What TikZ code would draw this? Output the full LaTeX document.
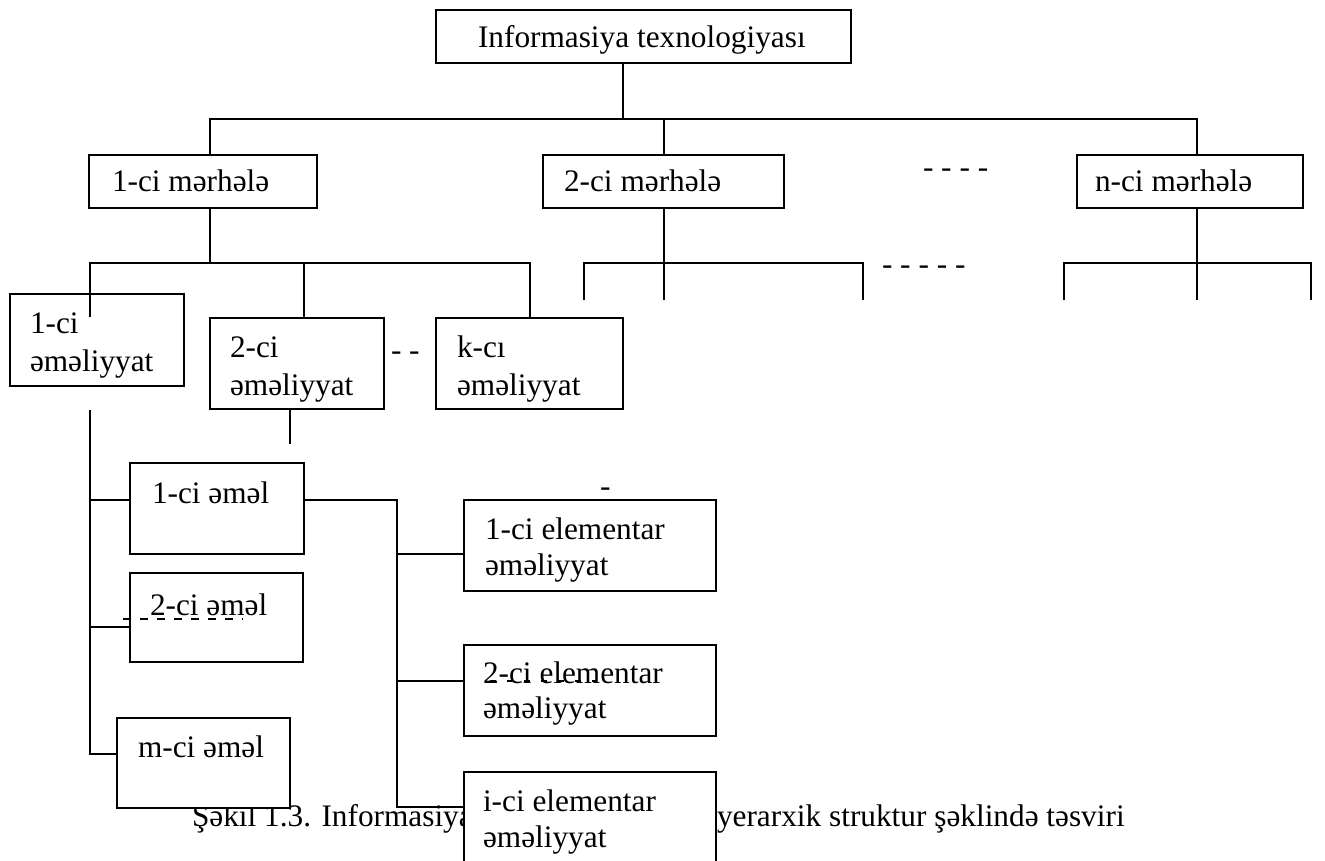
\documentclass[tikz,border=0pt]{standalone}
\usepackage{fontspec}
\setmainfont{Liberation Serif}
\begin{document}
\begin{tikzpicture}[x=1pt,y=-1pt,
  ln/.style={line width=1.5pt},
  box/.style={draw, fill=white, line width=1.5pt, inner sep=0pt, outer sep=0pt, anchor=north west},
  txt/.style={inner sep=0pt, outer sep=0pt, anchor=base west, font=\fontsize{31.3}{36}\selectfont},
  gapline/.style={line width=1.2pt, dash pattern=on 8pt off 9pt}]
\useasboundingbox (0,0) rectangle (1325,861);

% caption (partly hidden behind the last box)
\node[txt] (capA) at (192,826) {Şəkil 1.3. Informasiya};
\node[txt] (capB) at (717,826) {yerarxik struktur şəklində təsviri};

% boxes
\node[box, minimum width=415pt, minimum height=53pt] (top) at (436,10) {};
\node[box, minimum width=228pt, minimum height=53pt] (st1) at (89,155) {};
\node[box, minimum width=241pt, minimum height=53pt] (st2) at (543,155) {};
\node[box, minimum width=226pt, minimum height=53pt] (stn) at (1077,155) {};
\node[box, minimum width=174pt, minimum height=92pt] (op1) at (10,294) {};
\node[box, minimum width=174pt, minimum height=91pt] (op2) at (210,318) {};
\node[box, minimum width=187pt, minimum height=91pt] (opk) at (436,318) {};
\node[box, minimum width=174pt, minimum height=91pt] (a1) at (130,463) {};
\node[box, minimum width=173pt, minimum height=89pt] (a2) at (130,573) {};
\node[box, minimum width=173pt, minimum height=90pt] (am) at (117,718) {};
\node[box, minimum width=252pt, minimum height=91pt] (e1) at (464,500) {};
\node[box, minimum width=252pt, minimum height=91pt] (e2) at (464,645) {};
\node[box, minimum width=252pt, minimum height=110pt] (ei) at (464,772) {};

% box texts
\node[txt] (ttop) at (478,48) {Informasiya texnologiyası};
\node[txt] (tst1) at (112,192) {1-ci mərhələ};
\node[txt] (tst2) at (564,192) {2-ci mərhələ};
\node[txt] (tstn) at (1095,192) {n-ci mərhələ};
\node[txt] (top1a) at (30,333) {1-ci};
\node[txt] (top1b) at (30,371) {əməliyyat};
\node[txt] (top2a) at (230,357) {2-ci};
\node[txt] (top2b) at (230,395) {əməliyyat};
\node[txt] (topka) at (457,357) {k-cı};
\node[txt] (topkb) at (457,395) {əməliyyat};
\node[txt] (ta1) at (152,503) {1-ci əməl};
\node[txt] (ta2) at (150,615) {2-ci əməl};
\node[txt] (tam) at (138,757) {m-ci əməl};
\node[txt] (te1a) at (485,539) {1-ci elementar};
\node[txt] (te1b) at (485,575) {əməliyyat};
\node[txt] (te2a) at (483,683) {2-ci elementar};
\node[txt] (te2b) at (483,718) {əməliyyat};
\node[txt] (teia) at (483,811) {i-ci elementar};
\node[txt] (teib) at (483,847) {əməliyyat};

% loose hyphens
\node[txt] (d1) at (923,178) {- - - -};
\node[txt] (d2) at (882,274) {- - - - -};
\node[txt] (d3) at (391,360) {- -};
\node[txt] (d4) at (600,496) {-};

% first level
\coordinate (hT) at (623,119);
\coordinate (hL) at (210,119);
\coordinate (h2) at (664,119);
\coordinate (hR) at (1197,119);
\draw[ln] (top.south -| hT) -- (hT);
\draw[ln] (hL |- st1.north) -- (hL) -- (hR) -- (hR |- stn.north);
\draw[ln] (h2) -- (h2 |- st2.north);

% branches under stage 1
\coordinate (b1T) at (210,263);
\coordinate (b1L) at (90,263);
\coordinate (b1M) at (304,263);
\coordinate (b1R) at (530,263);
\coordinate (op1in) at (90,317);
\draw[ln] (st1.south -| b1T) -- (b1T);
\draw[ln] (op1in) -- (b1L) -- (b1R) -- (b1R |- opk.north);
\draw[ln] (b1M) -- (b1M |- op2.north);

% branches under stage 2
\coordinate (b2L) at (584,263);
\coordinate (b2M) at (664,263);
\coordinate (b2R) at (863,263);
\draw[ln] (st2.south -| b2M) -- (664,300);
\draw[ln] (584,300) -- (b2L) -- (b2R) -- (863,300);

% branches under stage n
\coordinate (bnL) at (1064,263);
\coordinate (bnM) at (1197,263);
\coordinate (bnR) at (1311,263);
\draw[ln] (stn.south -| bnM) -- (1197,300);
\draw[ln] (1064,300) -- (bnL) -- (bnR) -- (1311,300);

% under operation 2
\coordinate (op2out) at (290,444);
\draw[ln] (op2.south -| op2out) -- (op2out);

% actions
\coordinate (vTop) at (90,410);
\coordinate (vBot) at (90,754);
\draw[ln] (vTop) -- (vBot) -- (am.west |- vBot);
\draw[ln] (90,500) -- (a1.west |- 0,500);
\draw[ln] (90,627) -- (a2.west |- 0,627);

% elementary operations
\coordinate (eTop) at (397,500);
\coordinate (eBot) at (397,807);
\draw[ln] (a1.east |- eTop) -- (eTop) -- (eBot) -- (ei.west |- eBot);
\draw[ln] (397,554) -- (e1.west |- 0,554);
\draw[ln] (397,681) -- (e2.west |- 0,681);

% stray dashes on the texts
\draw[gapline] (123,619) -- (243,619);
\draw[line width=1.2pt, dash pattern=on 6pt off 11pt] (490,681) -- (597,681);
\end{tikzpicture}
\end{document}
